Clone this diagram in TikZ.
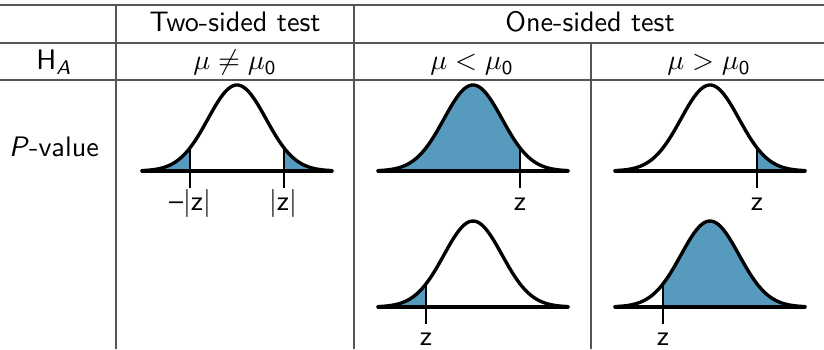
\documentclass[tikz,border=0pt]{standalone}
\usepackage{tikz}
\usetikzlibrary{positioning}
\definecolor{TailBlue}{RGB}{86,155,189}
\definecolor{RuleGray}{RGB}{85,85,85}

\begin{document}
\begin{tikzpicture}[
  x=0.355pt, y=-0.355pt,
  font=\sffamily,
  rule/.style={draw=RuleGray, line width=0.45pt},
  curve/.style={line width=1.2pt, line join=round, line cap=round},
  tail/.style={fill=TailBlue},
  cutline/.style={line width=0.7pt},
  cell/.style={inner sep=0pt, anchor=base},
]
\useasboundingbox (0,0) rectangle (824,349);

% table rules
\draw[rule] (0,5) -- (824,5);
\draw[rule] (0,43) -- (824,43);
\draw[rule] (0,80) -- (824,80);
\draw[rule] (116,5) -- (116,349);
\draw[rule] (354,5) -- (354,349);
\draw[rule] (591,43) -- (591,349);

% header cells
\node[cell] (two) at (235,32) {Two-sided test};
\node[cell] (one) at (590,32) {One-sided test};
\node[cell] (ha) at (54,70) {H\textsubscript{\itshape A}};
\node[cell] (neq) at (235,70) {$\mu \neq \mu_{\mathsf{0}}$};
\node[cell] (less) at (472,70) {$\mu < \mu_{\mathsf{0}}$};
\node[cell] (more) at (709,70) {$\mu > \mu_{\mathsf{0}}$};
\node[cell] (pval) at (54,156) {\textit{P}-value};

% shaded tails (centre/base/from/to/cut)
\foreach \c/\b/\l/\r/\k in {237/171/-95/-47/-47, 237/171/47/95/47,
                            473/171/-95/47/47, 710/171/47/95/47,
                            473/307/-95/-47/-47, 710/307/-47/95/-47} {
  \fill[tail] plot[domain=\l:\r, samples=40]
    ({\c+\x},{\b-86*exp(-0.5*(\x/29)^2)}) -- ({\c+\r},\b) -- ({\c+\l},\b) -- cycle;
  \draw[cutline] ({\c+\k},{\b-86*exp(-0.5*(\k/29)^2)}) -- ({\c+\k},{\b+17});
}

% bell curves
\foreach \c/\b in {237/171, 473/171, 710/171, 473/307, 710/307} {
  \draw[curve] ({\c-95},\b) -- ({\c+95},\b);
  \draw[curve] plot[domain=-95:95, samples=80, smooth]
    ({\c+\x},{\b-86*exp(-0.5*(\x/29)^2)});
}

% cut labels
\node[cell] (zl) at (190,210) {--|z|};
\node[cell] (zr) at (283,210) {|z|};
\node[cell] (z1) at (520,210) {z};
\node[cell] (z2) at (757,210) {z};
\node[cell] (z3) at (426,345) {z};
\node[cell] (z4) at (663,345) {z};

\end{tikzpicture}
\end{document}
